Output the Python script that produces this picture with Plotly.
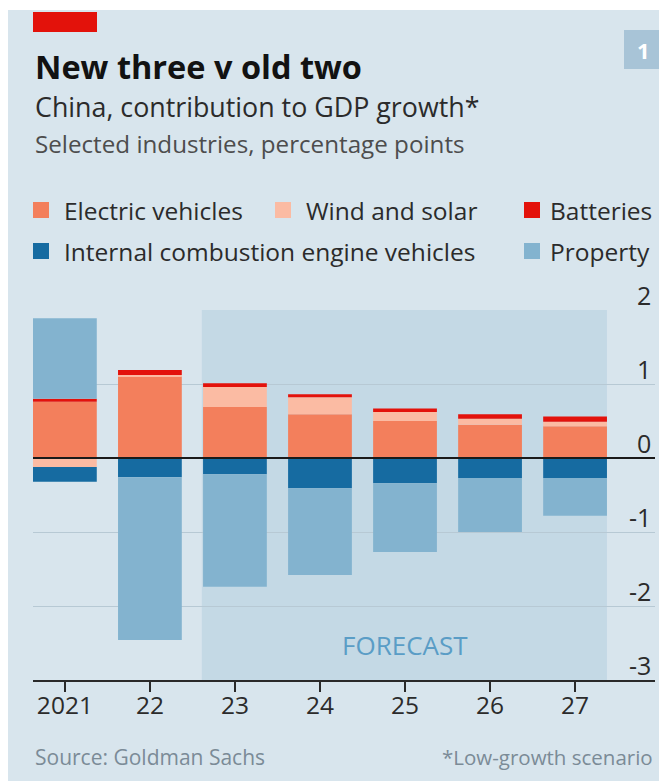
import plotly.graph_objects as go

# ---- data -------------------------------------------------------------
years = ["2021", "22", "23", "24", "25", "26", "27"]
electric_vehicles = [0.76, 1.10, 0.69, 0.59, 0.50, 0.45, 0.43]
wind_and_solar = [-0.12, 0.02, 0.27, 0.23, 0.12, 0.08, 0.06]
batteries = [0.04, 0.07, 0.05, 0.04, 0.05, 0.06, 0.07]
ice_vehicles = [-0.20, -0.26, -0.22, -0.41, -0.34, -0.27, -0.27]
property_sector = [1.09, -2.20, -1.52, -1.17, -0.93, -0.73, -0.51]

series_names = ["Electric vehicles", "Wind and solar", "Batteries",
                "Internal combustion engine vehicles", "Property"]
series_values = [electric_vehicles, wind_and_solar, batteries,
                 ice_vehicles, property_sector]
series_colors = ["#f37f5c", "#fbbba3", "#e3120b", "#166ba1", "#83b3cf"]

y_ticks = [2, 1, 0, -1, -2, -3]
y_tick_text = ["2", "1", "0", "-1", "-2", "-3"]

# ---- geometry helpers (pixel -> paper) --------------------------------
W, H = 659, 781
ML, MR, MT, MB = 33, 4, 310, 101
PW, PH = W - ML - MR, H - MT - MB


def px(x):
    return (x - ML) / PW


def py(y):
    return (H - MB - y) / PH


FONT = "Open Sans, sans-serif"
CARD = "#d8e5ed"
SHADE = "#c4d9e5"
DARK = "#1a1a1a"
TEXT = "#2b2b2b"

fig = go.Figure()
for name, vals, col in zip(series_names, series_values, series_colors):
    fig.add_trace(go.Bar(x=years, y=vals, name=name, marker_color=col,
                         marker_line_width=0, showlegend=False))

shapes = []
annotations = []


def note(text, x, y, size, color, xanchor="left", yanchor="middle", **kw):
    annotations.append(dict(text=text, xref=kw.pop("xref", "paper"), yref=kw.pop("yref", "paper"),
                            x=x, y=y, xanchor=xanchor, yanchor=yanchor, showarrow=False,
                            font=dict(family=FONT, size=size, color=color), **kw))


# white page margin around the card
shapes.append(dict(type="rect", xref="paper", yref="paper", x0=px(0), x1=px(8),
                   y0=py(H), y1=py(0), fillcolor="white", line_width=0, layer="above"))
shapes.append(dict(type="rect", xref="paper", yref="paper", x0=px(0), x1=px(W),
                   y0=py(10), y1=py(0), fillcolor="white", line_width=0, layer="above"))
# red tag
shapes.append(dict(type="rect", xref="paper", yref="paper", x0=px(33), x1=px(97),
                   y0=py(32), y1=py(12), fillcolor="#e3120b", line_width=0, layer="above"))
# chart number box
shapes.append(dict(type="rect", xref="paper", yref="paper", x0=px(624), x1=px(W),
                   y0=py(69), y1=py(30), fillcolor="#a8c4d7", line_width=0, layer="above"))
note("<b>1</b>", px(643), py(50), 22, "white", xanchor="center")

# forecast shading
shapes.append(dict(type="rect", xref="x", yref="y", x0=1.61, x1=6.375, y0=-3, y1=2,
                   fillcolor=SHADE, line_width=0, layer="below"))
# zero line above bars
shapes.append(dict(type="line", xref="paper", yref="y", x0=0, x1=1, y0=0, y1=0,
                   line=dict(color=DARK, width=2), layer="above"))

# titles
note("<b>New three v old two</b>", px(33), py(66), 32.5, "#121212")
note("China, contribution to GDP growth*", px(33), py(106), 26.8, TEXT)
note("Selected industries, percentage points", px(33), py(144), 24.2, "#4d4d4d")

# legend
legend_pos = [(33, 210, 62), (275, 210, 304), (524, 210, 548),
              (33, 251, 62), (524, 251, 548)]
for name, col, (sx, ly, tx) in zip(series_names, series_colors, legend_pos):
    shapes.append(dict(type="rect", xref="paper", yref="paper", x0=px(sx), x1=px(sx + 16),
                       y0=py(ly + 8), y1=py(ly - 8), fillcolor=col, line_width=0, layer="above"))
    note(name, px(tx), py(ly), 24.5, TEXT)

# y tick labels sitting on the gridlines, right side
for v, t in zip(y_ticks, y_tick_text):
    note(t, px(653), v, 25, TEXT, xanchor="right", yanchor="bottom", yref="y", yshift=-4)

note("FORECAST", 4, -2.53, 26, "#5a9dc6", xanchor="center", xref="x", yref="y")

# source and footnote
note("Source: Goldman Sachs", px(33), py(757), 21, "#7b8b97")
note("*Low-growth scenario", px(655), py(757), 20.5, "#7b8b97", xanchor="right")

fig.update_layout(
    width=W, height=H,
    margin=dict(l=ML, r=MR, t=MT, b=MB, pad=0),
    paper_bgcolor=CARD, plot_bgcolor=CARD,
    barmode="relative", bargap=0.25,
    shapes=shapes, annotations=annotations,
    font=dict(family=FONT, color=TEXT),
    xaxis=dict(type="category", categoryorder="array", categoryarray=years,
               range=[-0.375, 6.94], showgrid=False, zeroline=False,
               showline=True, linecolor="#2a2a2a", linewidth=2,
               ticks="outside", ticklen=10, tickwidth=1.5, tickcolor="#2a2a2a",
               ticklabelstandoff=-7,
               tickfont=dict(family=FONT, size=24.5, color=TEXT), fixedrange=True),
    yaxis=dict(range=[-3, 2], dtick=1, showgrid=True, gridcolor="#b7c9d4", gridwidth=1,
               zeroline=False, showticklabels=False, showline=False, fixedrange=True),
)

fig.write_html("out.html")
